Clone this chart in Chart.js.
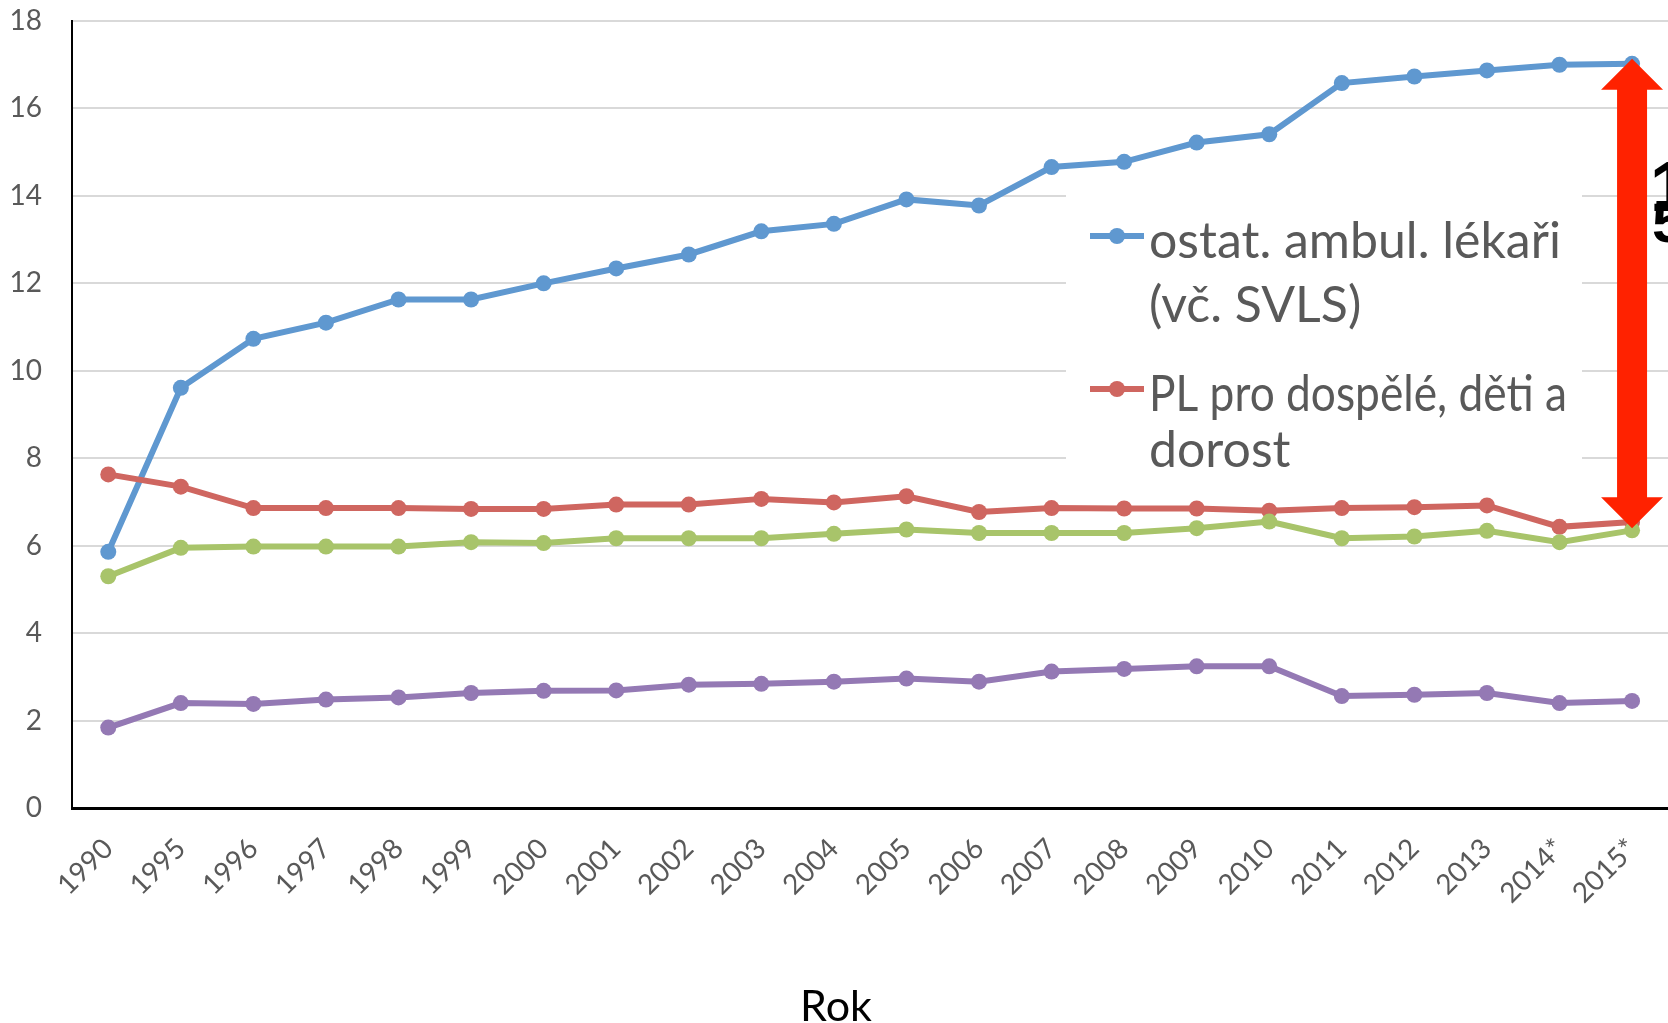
<!DOCTYPE html>
<html>
<head>
<meta charset="utf-8">
<script src="https://cdn.jsdelivr.net/npm/chart.js@4.4.1/dist/chart.umd.min.js"></script>
<style>
  html, body { margin: 0; padding: 0; background: #fff; overflow: hidden; }
  #frame { position: relative; width: 1668px; height: 1023px; overflow: hidden; }
  #wrap { position: absolute; left: 0; top: 0; width: 1680px; height: 1023px; }
  .side { position: absolute; font-family: 'Liberation Sans', sans-serif; font-weight: bold; color: #000; line-height: 1; }
</style>
</head>
<body>
<div id="frame">
  <div id="wrap"><canvas id="chart"></canvas></div>
  <div class="side" style="left:1650px; top:152px; font-size:70px;">1</div>
  <div class="side" style="left:1652px; top:192px; font-size:60px;">5</div>
</div>
<script>
// years on the x axis
const years = ['1990', '1995', '1996', '1997', '1998', '1999', '2000', '2001', '2002', '2003', '2004',
  '2005', '2006', '2007', '2008', '2009', '2010', '2011', '2012', '2013', '2014*', '2015*'];

// ostat. ambul. lékaři (vč. SVLS)
const ambulValues = [5.86, 9.61, 10.73, 11.10, 11.63, 11.63, 12.00, 12.34, 12.66, 13.19, 13.36,
  13.92, 13.78, 14.66, 14.78, 15.22, 15.41, 16.58, 16.73, 16.87, 17.00, 17.02];
// PL pro dospělé, děti a dorost
const plValues = [7.63, 7.35, 6.86, 6.86, 6.86, 6.84, 6.84, 6.94, 6.94, 7.07, 6.99,
  7.13, 6.77, 6.86, 6.85, 6.85, 6.80, 6.86, 6.88, 6.92, 6.43, 6.54];
const greenValues = [5.30, 5.95, 5.98, 5.98, 5.98, 6.08, 6.06, 6.17, 6.17, 6.17, 6.27,
  6.37, 6.29, 6.29, 6.29, 6.40, 6.55, 6.17, 6.21, 6.34, 6.08, 6.35];
const purpleValues = [1.84, 2.40, 2.38, 2.48, 2.53, 2.63, 2.68, 2.69, 2.82, 2.84, 2.89,
  2.96, 2.89, 3.12, 3.18, 3.24, 3.24, 2.56, 2.59, 2.63, 2.40, 2.45];

const yMin = 0;
const yMax = 18;
const yStep = 2;
const xTitle = 'Rok';

// legend text, already split into lines
const legendLines = [
  ['ostat. ambul. lékaři', '(vč. SVLS)'],
  ['PL pro dospělé, děti a', 'dorost']
];

const colors = ['#5f98d0', '#cf6660', '#a8c46a', '#9479b4'];
const tickFont = { family: 'Lato, sans-serif', size: 28 };

// white legend box sitting on the grid
const boxLegend = {
  id: 'boxLegend',
  beforeDatasetsDraw(chart) {
    const ctx = chart.ctx;
    ctx.save();
    ctx.fillStyle = '#fff';
    ctx.fillRect(1066, 186, 516, 299);

    const rows = [236, 389];
    const lineGap = [64, 56];
    ctx.font = '50px Lato, sans-serif';
    ctx.textBaseline = 'middle';
    rows.forEach((y, i) => {
      ctx.strokeStyle = colors[i];
      ctx.lineWidth = 6;
      ctx.beginPath();
      ctx.moveTo(1090, y);
      ctx.lineTo(1144, y);
      ctx.stroke();
      ctx.fillStyle = colors[i];
      ctx.beginPath();
      ctx.arc(1117, y, 8, 0, Math.PI * 2);
      ctx.fill();
      ctx.fillStyle = '#595959';
      legendLines[i].forEach((line, j) => {
        ctx.fillText(line, 1149, y + 6 + j * lineGap[i], 418);
      });
    });
    ctx.restore();
  }
};

// red double arrow over the last year
const gapArrow = {
  id: 'gapArrow',
  afterDatasetsDraw(chart) {
    const ctx = chart.ctx;
    const last = years.length - 1;
    const x = chart.scales.x.getPixelForValue(last);
    const top = chart.scales.y.getPixelForValue(ambulValues[last]) - 5;
    const bottom = chart.scales.y.getPixelForValue(greenValues[last]) - 2;
    const shaft = 15, head = 31, headLen = 31;
    ctx.save();
    ctx.fillStyle = '#ff2200';
    ctx.beginPath();
    ctx.moveTo(x, top);
    ctx.lineTo(x + head, top + headLen);
    ctx.lineTo(x + shaft, top + headLen);
    ctx.lineTo(x + shaft, bottom - headLen);
    ctx.lineTo(x + head, bottom - headLen);
    ctx.lineTo(x, bottom);
    ctx.lineTo(x - head, bottom - headLen);
    ctx.lineTo(x - shaft, bottom - headLen);
    ctx.lineTo(x - shaft, top + headLen);
    ctx.lineTo(x - head, top + headLen);
    ctx.closePath();
    ctx.fill();
    ctx.restore();
  }
};

function series(values, i, label) {
  return {
    label: label,
    data: values,
    borderColor: colors[i],
    backgroundColor: colors[i],
    pointBackgroundColor: colors[i],
    pointBorderWidth: 0,
    pointRadius: 8,
    borderWidth: 6,
    tension: 0,
    order: 4 - i
  };
}

new Chart(document.getElementById('chart'), {
  type: 'line',
  data: {
    labels: years,
    datasets: [
      series(ambulValues, 0, legendLines[0].join(' ')),
      series(plValues, 1, legendLines[1].join(' ')),
      series(greenValues, 2, ''),
      series(purpleValues, 3, '')
    ]
  },
  options: {
    responsive: true,
    maintainAspectRatio: false,
    animation: false,
    layout: { padding: { left: 0, right: 8, top: 0, bottom: 0 } },
    plugins: {
      legend: { display: false },
      tooltip: { enabled: false },
      title: {
        display: true,
        position: 'bottom',
        text: xTitle,
        color: '#000',
        font: { family: 'Lato, sans-serif', size: 43, weight: 'normal', lineHeight: 1 },
        padding: { top: 6, bottom: -6 }
      }
    },
    scales: {
      x: {
        offset: true,
        grid: { display: false, drawTicks: false },
        border: { color: '#000', width: 3 },
        ticks: {
          color: '#595959',
          font: tickFont,
          minRotation: 45,
          maxRotation: 45,
          autoSkip: false,
          padding: 24
        },
        afterFit: s => { s.height = 172; }
      },
      y: {
        min: yMin,
        max: yMax,
        ticks: { stepSize: yStep, color: '#595959', font: tickFont, padding: 30 },
        grid: { color: '#d9d9d9', lineWidth: 2, drawTicks: false },
        border: { color: '#000', width: 2 },
        afterFit: s => {
          s.width = 72;
          s.paddingTop = 21;
          s.paddingBottom = 0;
        }
      }
    }
  },
  plugins: [boxLegend, gapArrow]
});
</script>
</body>
</html>
